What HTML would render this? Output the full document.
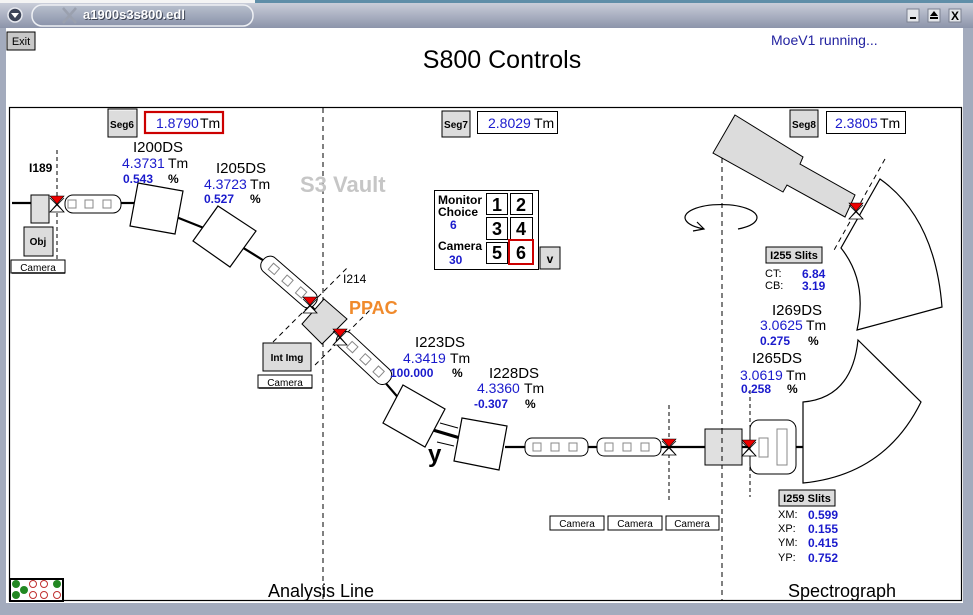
<!DOCTYPE html>
<html><head><meta charset="utf-8"><style>
html,body{margin:0;padding:0;width:973px;height:615px;overflow:hidden;background:#fff}
svg{display:block}
text{font-family:"Liberation Sans",Arial,sans-serif}
</style></head><body>
<svg width="973" height="615" viewBox="0 0 973 615" xmlns="http://www.w3.org/2000/svg">
<defs>
<linearGradient id="tb" x1="0" y1="0" x2="0" y2="1"><stop offset="0" stop-color="#c9cdd9"/><stop offset="1" stop-color="#8c94aa"/></linearGradient>
<linearGradient id="pill" x1="0" y1="0" x2="0" y2="1"><stop offset="0" stop-color="#b8bfcd"/><stop offset="1" stop-color="#8a93aa"/></linearGradient>
<g id="mk"><polygon points="0,0 14,0 7,8" fill="#ee0000" stroke="#000" stroke-width="0.6"/><polygon points="7,8 0,16 14,16" fill="#fff" stroke="#000" stroke-width="0.8"/><line x1="0" y1="2" x2="14" y2="16" stroke="#000" stroke-width="0.8"/><line x1="14" y1="2" x2="0" y2="16" stroke="#000" stroke-width="0.8"/></g>
</defs>

<!-- desktop strip & frame -->
<rect x="0" y="0" width="973" height="615" fill="#a3abbd"/>
<rect x="255" y="0" width="718" height="5" fill="#5f8ea8"/>
<rect x="0" y="0" width="255" height="4" fill="#f4f4f4"/>
<rect x="0" y="3" width="973" height="25" fill="url(#tb)"/>
<rect x="6" y="28" width="957" height="575" fill="#fff"/>
<!-- title pill -->
<rect x="32" y="5" width="221" height="21" rx="10" fill="url(#pill)" stroke="#eef0f4" stroke-width="1.5"/>
<line x1="63" y1="8" x2="76" y2="23" stroke="#9aa0ae" stroke-width="2.5"/>
<line x1="76" y1="8" x2="63" y2="23" stroke="#9aa0ae" stroke-width="2.5"/>
<text x="84" y="20" font-size="13" font-weight="bold" fill="#3a4050">a1900s3s800.edl</text>
<text x="83" y="19" font-size="13" font-weight="bold" fill="#fff">a1900s3s800.edl</text>
<circle cx="15" cy="15" r="7" fill="#3c4458" stroke="#e8eaf0" stroke-width="1.5"/>
<polygon points="11,13 19,13 15,18" fill="#fff"/>
<!-- right window buttons -->
<rect x="907" y="9" width="12" height="13" fill="#e4e6ea" stroke="#7a8090"/><rect x="910" y="17" width="6" height="2" fill="#000"/>
<rect x="928" y="9" width="12" height="13" fill="#e4e6ea" stroke="#7a8090"/><polygon points="930,16 938,16 934,11" fill="#000"/><rect x="930" y="17" width="8" height="2" fill="#000"/>
<rect x="949" y="9" width="12" height="13" fill="#e4e6ea" stroke="#7a8090"/><text x="955" y="20" font-size="12" font-weight="bold" text-anchor="middle">X</text>

<!-- Exit -->
<rect x="7" y="32" width="28" height="18" fill="#c8c8c8" stroke="#000" stroke-width="1"/>
<text x="21" y="45" font-size="11" text-anchor="middle">Exit</text>
<text x="502" y="68" font-size="25" text-anchor="middle">S800 Controls</text>
<text x="771" y="45" font-size="14" fill="#2222a0">MoeV1 running...</text>

<!-- main box -->
<rect x="9.5" y="107.5" width="952" height="493" fill="none" stroke="#000" stroke-width="1.2"/>
<line x1="323" y1="108" x2="323" y2="600" stroke="#000" stroke-dasharray="5,4"/>
<line x1="722" y1="158" x2="722" y2="600" stroke="#000" stroke-dasharray="5,4"/>
<line x1="57" y1="150" x2="57" y2="264" stroke="#000" stroke-dasharray="4,3"/>
<line x1="669" y1="405" x2="669" y2="500" stroke="#000" stroke-dasharray="4,3"/>
<line x1="750" y1="390" x2="750" y2="497" stroke="#000" stroke-dasharray="4,3"/>
<line x1="273" y1="342" x2="347" y2="268" stroke="#000" stroke-dasharray="5,4"/>
<line x1="315" y1="365" x2="370" y2="310" stroke="#000" stroke-dasharray="5,4"/>
<line x1="885" y1="159" x2="833" y2="252" stroke="#000" stroke-dasharray="5,4"/>

<text x="300" y="192" font-size="22" font-weight="bold" fill="#c6c6c6">S3 Vault</text>

<!-- beam lines -->
<g stroke="#000" stroke-width="2.2" fill="none">
<line x1="12" y1="203" x2="32" y2="203"/>
<line x1="120" y1="203" x2="134" y2="203"/>
<line x1="156" y1="209" x2="224" y2="236"/>
<line x1="224" y1="236" x2="266" y2="262"/>
<line x1="289" y1="282" x2="325" y2="321"/>
<line x1="325" y1="321" x2="364" y2="358"/>
<line x1="364" y1="358" x2="414" y2="416"/>
<line x1="505" y1="447" x2="705" y2="447"/>
<line x1="742" y1="447" x2="805" y2="447"/>
</g>
<line x1="433" y1="430" x2="460" y2="438" stroke="#000" stroke-width="3"/>
<line x1="440" y1="423" x2="458" y2="428" stroke="#000" stroke-width="1"/>
<line x1="437" y1="442" x2="454" y2="446" stroke="#000" stroke-width="1"/>
<text x="428" y="462" font-size="24" font-weight="bold">y</text>

<!-- left elements -->
<rect x="31" y="195" width="18" height="28" fill="#e0e0e0" stroke="#000"/>
<rect x="65" y="195" width="56" height="18" rx="8" fill="#fff" stroke="#000"/>
<g fill="none" stroke="#888"><rect x="68" y="200" width="8" height="8"/><rect x="85" y="200" width="8" height="8"/><rect x="103" y="200" width="8" height="8"/></g>
<use href="#mk" x="50" y="196"/>
<polygon points="138,183 183,191 175,234 130,226" fill="#fff" stroke="#000" stroke-width="1.2"/>
<polygon points="218,206 256,231 230,267 193,241" fill="#fff" stroke="#000" stroke-width="1.2"/>

<!-- diag pill 1 -->
<g transform="translate(289,282) rotate(41)">
<rect x="-34" y="-9" width="68" height="18" rx="8" fill="#fff" stroke="#000"/>
<g fill="none" stroke="#888"><rect x="-24" y="-4" width="8" height="8"/><rect x="-6" y="-4" width="8" height="8"/><rect x="12" y="-4" width="8" height="8"/></g>
</g>
<polygon points="324,299 347,319 322,344 302,324" fill="#dcdcdc" stroke="#000" stroke-width="1"/>
<use href="#mk" x="303" y="297"/>
<g transform="translate(364,358) rotate(43)">
<rect x="-34" y="-9" width="68" height="18" rx="8" fill="#fff" stroke="#000"/>
<g fill="none" stroke="#888"><rect x="-20" y="-4" width="8" height="8"/><rect x="-2" y="-4" width="8" height="8"/><rect x="16" y="-4" width="8" height="8"/></g>
</g>
<use href="#mk" x="333" y="329"/>
<polygon points="403,385 445,409 425,447 383,423" fill="#fff" stroke="#000" stroke-width="1.2"/>
<polygon points="462,418 507,426 499,470 454,461" fill="#fff" stroke="#000" stroke-width="1.2"/>

<!-- horizontal pills -->
<rect x="525" y="438" width="63" height="18" rx="7" fill="#fff" stroke="#000"/>
<g fill="none" stroke="#888"><rect x="533" y="443" width="8" height="8"/><rect x="551" y="443" width="8" height="8"/><rect x="569" y="443" width="8" height="8"/></g>
<rect x="597" y="438" width="64" height="18" rx="7" fill="#fff" stroke="#000"/>
<g fill="none" stroke="#888"><rect x="605" y="443" width="8" height="8"/><rect x="623" y="443" width="8" height="8"/><rect x="641" y="443" width="8" height="8"/></g>
<use href="#mk" x="662" y="439"/>
<rect x="705" y="429" width="37" height="36" fill="#e0e0e0" stroke="#000"/>
<line x1="722" y1="429" x2="722" y2="465" stroke="#000" stroke-dasharray="5,4"/>
<rect x="750" y="420" width="46" height="54" rx="9" fill="#fff" stroke="#000"/>
<rect x="759" y="438" width="9" height="19" fill="#fff" stroke="#888"/>
<rect x="777" y="429" width="10" height="36" fill="#fff" stroke="#888"/>
<use href="#mk" x="742" y="440"/>

<!-- spectrograph sectors -->
<path d="M803,402 Q852,398 858,340 L921,402 Q885,475 803,483 Z" fill="#fff" stroke="#000" stroke-width="1.2"/>
<path d="M880,179 Q935,218 942,307 L857,330 Q868,282 841,248 Z" fill="#fff" stroke="#000" stroke-width="1.2"/>
<polygon points="735,115 803,157 800,164 855,195 845,217 787,185 783,192 713,153" fill="#dcdcdc" stroke="#000" stroke-width="1"/>
<use href="#mk" x="849" y="203"/>
<!-- rotation arrow -->
<path d="M704,229 A36,13 0 1,1 738,229" fill="none" stroke="#000" stroke-width="1.2"/>
<path d="M697,222 L704,229 L693,231" fill="none" stroke="#000" stroke-width="1.2"/>

<!-- buttons -->
<g font-size="10" font-weight="bold" text-anchor="middle">
<rect x="108" y="109" width="29" height="28" fill="#dcdcdc" stroke="#000"/><line x1="109" y1="110" x2="136" y2="110" stroke="#fff"/><text x="122" y="128">Seg6</text>
<rect x="442" y="111" width="28" height="26" fill="#dcdcdc" stroke="#000"/><text x="456" y="128">Seg7</text>
<rect x="790" y="110" width="28" height="27" fill="#dcdcdc" stroke="#000"/><text x="804" y="128">Seg8</text>
<rect x="24" y="227" width="29" height="29" fill="#dcdcdc" stroke="#000"/><text x="38" y="245">Obj</text>
<rect x="263" y="343" width="48" height="28" fill="#dcdcdc" stroke="#000"/><text x="287" y="361">Int Img</text>
<rect x="766" y="247" width="56" height="16" fill="#dcdcdc" stroke="#000"/><text x="794" y="259" font-size="11">I255 Slits</text>
<rect x="779" y="490" width="56" height="16" fill="#dcdcdc" stroke="#000"/><text x="807" y="502" font-size="11">I259 Slits</text>
</g>
<g font-size="10" text-anchor="middle">
<rect x="11" y="260" width="54" height="13" fill="#fff" stroke="#000"/><line x1="12" y1="273" x2="65" y2="273" stroke="#000" stroke-width="1.5"/><text x="38" y="271">Camera</text>
<rect x="258" y="375" width="54" height="13" fill="#fff" stroke="#000"/><line x1="259" y1="388" x2="312" y2="388" stroke="#000" stroke-width="1.5"/><text x="285" y="386">Camera</text>
<rect x="550" y="516" width="54" height="14" fill="#fff" stroke="#000"/><text x="577" y="527">Camera</text>
<rect x="608" y="516" width="54" height="14" fill="#fff" stroke="#000"/><text x="635" y="527">Camera</text>
<rect x="666" y="516" width="53" height="14" fill="#fff" stroke="#000"/><text x="692" y="527">Camera</text>
</g>

<!-- value boxes -->
<rect x="145" y="112" width="78" height="21" fill="#fff" stroke="#cc0000" stroke-width="2.2"/>
<text x="156" y="128" font-size="14" fill="#1a1acc">1.8790</text><text x="200" y="128" font-size="14">Tm</text>
<rect x="477.5" y="111.5" width="80" height="22" fill="#fff" stroke="#000"/>
<text x="488" y="128" font-size="14" fill="#1a1acc">2.8029</text><text x="534" y="128" font-size="14">Tm</text>
<rect x="826.5" y="111.5" width="79" height="22" fill="#fff" stroke="#000"/>
<text x="835" y="128" font-size="14" fill="#1a1acc">2.3805</text><text x="880" y="128" font-size="14">Tm</text>

<!-- monitor box -->
<rect x="434.5" y="190.5" width="104" height="79" fill="#fff" stroke="#000"/>
<g font-size="12" font-weight="bold">
<text x="438" y="204">Monitor</text><text x="438" y="216">Choice</text>
<text x="450" y="229" fill="#1a1acc">6</text>
<text x="438" y="250">Camera</text>
<text x="449" y="264" fill="#1a1acc">30</text>
</g>
<g fill="#fff" stroke="#000"><rect x="486.5" y="193.5" width="21" height="21"/><rect x="510.5" y="193.5" width="22" height="21"/><rect x="486.5" y="217.5" width="21" height="22"/><rect x="510.5" y="217.5" width="22" height="22"/><rect x="486.5" y="242.5" width="21" height="21"/></g>
<rect x="509" y="240" width="24" height="24" fill="#fff" stroke="#cc0000" stroke-width="2"/>
<g font-size="18" font-weight="bold" text-anchor="middle">
<text x="497" y="211">1</text><text x="521" y="211">2</text><text x="497" y="235">3</text><text x="521" y="235">4</text><text x="497" y="259">5</text><text x="521" y="259">6</text>
</g>
<rect x="540" y="247" width="20" height="22" fill="#dcdcdc" stroke="#000"/>
<text x="550" y="263" font-size="12" font-weight="bold" text-anchor="middle">v</text>

<!-- labels -->
<text x="29" y="172" font-size="12" font-weight="bold">I189</text>
<text x="343" y="283" font-size="12">I214</text>
<text x="349" y="314" font-size="18" font-weight="bold" fill="#f08a2c">PPAC</text>

<g font-size="15">
<text x="133" y="152">I200DS</text>
<text x="216" y="173">I205DS</text>
<text x="415" y="347">I223DS</text>
<text x="489" y="378">I228DS</text>
<text x="772" y="315">I269DS</text>
<text x="752" y="363">I265DS</text>
</g>
<g font-size="14">
<text x="122" y="168" fill="#1a1acc">4.3731</text><text x="168" y="168">Tm</text>
<text x="204" y="189" fill="#1a1acc">4.3723</text><text x="250" y="189">Tm</text>
<text x="403" y="363" fill="#1a1acc">4.3419</text><text x="450" y="363">Tm</text>
<text x="477" y="393" fill="#1a1acc">4.3360</text><text x="524" y="393">Tm</text>
<text x="760" y="330" fill="#1a1acc">3.0625</text><text x="806" y="330">Tm</text>
<text x="740" y="380" fill="#1a1acc">3.0619</text><text x="786" y="380">Tm</text>
</g>
<g font-size="12" font-weight="bold">
<text x="123" y="183" fill="#1a1acc">0.543</text><text x="168" y="183">%</text>
<text x="204" y="203" fill="#1a1acc">0.527</text><text x="250" y="203">%</text>
<text x="390" y="377" fill="#1a1acc">100.000</text><text x="452" y="377">%</text>
<text x="474" y="408" fill="#1a1acc">-0.307</text><text x="525" y="408">%</text>
<text x="760" y="345" fill="#1a1acc">0.275</text><text x="808" y="345">%</text>
<text x="741" y="393" fill="#1a1acc">0.258</text><text x="787" y="393">%</text>
</g>

<!-- slits values -->
<g font-size="11">
<text x="765" y="277">CT:</text><text x="765" y="289">CB:</text>
<text x="778" y="518">XM:</text><text x="778" y="532">XP:</text><text x="778" y="546">YM:</text><text x="778" y="561">YP:</text>
</g>
<g font-size="12" font-weight="bold" fill="#1a1acc">
<text x="802" y="278">6.84</text><text x="802" y="290">3.19</text>
<text x="808" y="519">0.599</text><text x="808" y="533">0.155</text><text x="808" y="547">0.415</text><text x="808" y="562">0.752</text>
</g>

<text x="268" y="597" font-size="18">Analysis Line</text>
<text x="788" y="597" font-size="18">Spectrograph</text>

<!-- status indicator -->
<rect x="10" y="579" width="53" height="22" fill="#fff" stroke="#000" stroke-width="2"/>
<g fill="#228822"><circle cx="16" cy="584" r="4"/><circle cx="16" cy="595" r="4"/><circle cx="24" cy="590" r="4"/><circle cx="57" cy="584" r="4"/></g>
<g fill="none" stroke="#c03030"><circle cx="33" cy="584" r="3.5"/><circle cx="44" cy="584" r="3.5"/><circle cx="33" cy="595" r="3.5"/><circle cx="44" cy="595" r="3.5"/><circle cx="57" cy="595" r="3.5"/></g>
</svg>
</body></html>
